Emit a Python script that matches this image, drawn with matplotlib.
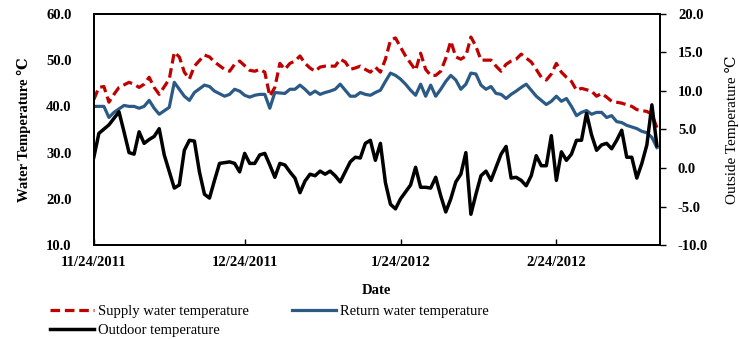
import numpy as np
import pandas as pd
import matplotlib
matplotlib.use('Agg')
import matplotlib.pyplot as plt
import matplotlib.dates as mdates
from matplotlib.lines import Line2D

plt.rcParams['font.family'] = ['Liberation Serif', 'DejaVu Serif']
plt.rcParams['axes.unicode_minus'] = False

### Data (days counted from 11/24/2011)
start = pd.Timestamp('2011-11-24')

supply_day = [0, 1, 2, 3, 4, 5, 7, 8, 9, 10, 11, 12, 13, 15, 16, 17, 18, 19, 20, 22,
              23, 24, 26, 27, 28, 29, 31, 32, 33, 34, 35, 36, 37, 38, 39, 40, 41, 42, 43, 44,
              45, 46, 48, 49, 50, 51, 52, 53, 54, 55, 56, 57, 58, 59, 60, 61, 62, 64, 65, 66,
              67, 68, 69, 70, 71, 72, 73, 74, 75, 76, 77, 78, 79, 80, 81, 82, 83, 84, 85, 87,
              88, 89, 90, 91, 92, 93, 94, 95, 96, 97, 99, 100, 101, 102, 103, 105, 107, 108, 110, 111,
              112]
supply_temp = [41.5, 44.1, 44.3, 40.9, 42.6, 44.1, 45.2, 44.8, 44.1, 44.8, 46.3, 44.1, 42.6, 45.9, 51.7, 50.7, 47.4, 45.9, 48.7, 51.1,
               50.7, 49.6, 48.0, 47.6, 49.1, 49.8, 47.8, 47.6, 48.0, 47.4, 42.2, 44.1, 49.3, 48.0, 49.3, 49.8, 50.9, 49.3, 48.3, 47.6,
               48.5, 48.7, 48.7, 50.2, 49.6, 48.0, 48.3, 48.7, 48.0, 47.4, 48.5, 47.4, 50.2, 54.3, 54.8, 52.8, 50.9, 47.8, 51.5, 48.0,
               46.7, 46.7, 47.6, 50.4, 54.1, 50.7, 50.2, 50.9, 55.0, 53.0, 50.0, 50.0, 50.0, 48.7, 47.6, 49.1, 49.8, 50.2, 51.3, 49.6,
               48.0, 46.3, 45.7, 47.0, 49.3, 47.4, 46.3, 45.4, 43.5, 43.9, 43.3, 42.2, 42.8, 42.0, 41.1, 40.7, 40.0, 39.3, 38.9, 38.3,
               35.4]

return_day = [0, 1, 2, 3, 4, 6, 7, 8, 9, 10, 11, 12, 13, 15, 16, 17, 18, 19, 20, 22,
              23, 24, 26, 27, 28, 29, 30, 31, 32, 33, 34, 35, 36, 38, 39, 40, 41, 42, 43, 44,
              45, 46, 47, 48, 49, 50, 51, 52, 53, 54, 55, 56, 57, 58, 59, 60, 61, 62, 63, 64,
              65, 66, 67, 68, 69, 70, 71, 72, 73, 74, 75, 76, 77, 78, 79, 80, 81, 82, 83, 84,
              85, 86, 87, 88, 89, 90, 91, 92, 93, 94, 95, 96, 97, 98, 99, 100, 101, 102, 103, 104,
              105, 106, 108, 109, 110, 111, 112]
return_temp = [40.0, 40.0, 40.0, 37.6, 38.7, 40.2, 40.0, 40.0, 39.6, 40.0, 41.3, 39.6, 38.3, 39.8, 45.2, 43.7, 42.2, 41.3, 43.0, 44.6,
               44.3, 43.3, 42.2, 42.6, 43.7, 43.3, 42.4, 42.0, 42.4, 42.6, 42.6, 39.6, 43.0, 42.8, 43.7, 43.7, 44.6, 43.7, 42.6, 43.3,
               42.6, 43.0, 43.3, 43.7, 44.8, 43.5, 42.2, 42.2, 43.0, 42.6, 42.4, 43.0, 43.5, 45.4, 47.2, 46.7, 45.9, 44.8, 43.5, 42.4,
               44.8, 42.2, 44.6, 42.2, 43.7, 45.4, 46.7, 45.7, 43.7, 44.8, 47.2, 47.0, 44.6, 43.7, 44.3, 42.8, 42.6, 41.7, 42.6, 43.3,
               44.1, 44.8, 43.5, 42.2, 41.3, 40.4, 41.1, 42.2, 41.1, 41.7, 40.0, 38.0, 38.7, 39.1, 38.3, 38.7, 38.7, 37.6, 38.0, 36.7,
               36.5, 35.9, 35.2, 34.6, 34.3, 33.3, 31.1]

outdoor_day = [0, 1, 3, 5, 6, 7, 8, 9, 10, 11, 12, 13, 14, 16, 17, 18, 19, 20, 21, 22,
               23, 24, 25, 27, 28, 29, 30, 31, 32, 33, 34, 35, 36, 37, 38, 39, 40, 41, 42, 43,
               44, 45, 46, 47, 48, 49, 50, 51, 52, 53, 54, 55, 56, 57, 58, 59, 60, 61, 62, 63,
               64, 65, 66, 67, 68, 69, 70, 71, 72, 73, 74, 75, 76, 77, 78, 79, 80, 81, 82, 83,
               84, 85, 86, 87, 88, 89, 90, 91, 92, 93, 94, 95, 96, 97, 98, 99, 100, 101, 102, 103,
               104, 105, 106, 107, 108, 109, 110, 111, 112]
outdoor_temp = [1.4, 4.5, 5.6, 7.3, 4.7, 2.0, 1.8, 4.7, 3.2, 3.7, 4.1, 5.1, 1.7, -2.6, -2.2, 2.3, 3.6, 3.5, -0.5, -3.4,
                -3.9, -1.6, 0.6, 0.8, 0.6, -0.5, 1.9, 0.6, 0.6, 1.7, 1.9, 0.4, -1.2, 0.6, 0.4, -0.5, -1.3, -3.2, -1.7, -0.8,
                -1.0, -0.4, -0.8, -0.4, -1.0, -1.8, -0.5, 0.8, 1.4, 1.3, 3.2, 3.6, 1.0, 3.2, -1.9, -4.7, -5.3, -4.0, -3.1, -2.2,
                0.1, -2.5, -2.5, -2.6, -1.2, -3.6, -5.7, -4.0, -1.8, -0.8, 2.0, -6.0, -3.4, -1.0, -0.4, -1.6, 0.1, 1.8, 2.8, -1.3,
                -1.2, -1.6, -2.3, -1.0, 1.6, 0.3, 0.3, 4.2, -1.6, 2.1, 1.0, 1.8, 3.6, 3.6, 7.1, 4.3, 2.3, 3.0, 3.2, 2.5,
                3.6, 4.9, 1.4, 1.4, -1.3, 0.6, 3.0, 8.2, 2.9]

tick_dates = ['2011-11-24', '2011-12-24', '2012-01-24', '2012-02-24']
tick_labels = ['11/24/2011', '12/24/2011', '1/24/2012', '2/24/2012']


def to_dates(days):
    return start + pd.to_timedelta(days, unit='D')


### Figure
fig = plt.figure(figsize=(7.39, 3.39), dpi=100)
ax = fig.add_axes([0.127, 0.277, 0.766, 0.682])
ax2 = ax.twinx()

red = '#C00000'
blue = '#2B5A86'

l1, = ax.plot(to_dates(supply_day), supply_temp, color=red, lw=2.3,
              dashes=(3.0, 1.5), label='Supply water temperature')
l2, = ax.plot(to_dates(return_day), return_temp, color=blue, lw=2.3,
              label='Return water temperature')
l3, = ax2.plot(to_dates(outdoor_day), outdoor_temp, color='black', lw=2.5,
               label='Outdoor temperature')

ax.set_xlim(start, start + pd.Timedelta(days=112.6))
ax.set_ylim(10, 60)
ax2.set_ylim(-10, 20)

ax.set_yticks([10, 20, 30, 40, 50, 60])
ax.set_yticklabels(['%.1f' % v for v in [10, 20, 30, 40, 50, 60]])
ax2.set_yticks([-10, -5, 0, 5, 10, 15, 20])
ax2.set_yticklabels(['%.1f' % v for v in [-10, -5, 0, 5, 10, 15, 20]])

ax.set_xticks(pd.to_datetime(tick_dates))
ax.set_xticklabels(tick_labels)

for a in (ax, ax2):
    for s in a.spines.values():
        s.set_linewidth(1.3)
        s.set_color('black')

ax.tick_params(axis='x', direction='in', length=4, width=1, pad=8)
ax.tick_params(axis='y', direction='out', length=0, pad=16)
ax2.tick_params(axis='y', direction='out', length=4, width=1, pad=9)
for lab in ax.get_xticklabels() + ax.get_yticklabels() + ax2.get_yticklabels():
    lab.set_fontsize(10.5)
    lab.set_fontweight('bold')

ax.set_xlabel('Date', fontsize=10.5, fontweight='bold', labelpad=11)
ax.set_ylabel('Water Temperature \u2103', fontsize=10.5, fontweight='bold', labelpad=11)
ax2.set_ylabel('Outside Temperature \u2103', fontsize=11, labelpad=12)

fig.legend(handles=[l1, l3, l2], loc='upper left', bbox_to_anchor=(0.068, 0.100),
           ncol=2, frameon=False, fontsize=10.5, handlelength=3.0, handletextpad=0.25,
           columnspacing=3.0, labelspacing=0.4, borderpad=0, borderaxespad=0)

fig.savefig('out.png', dpi=100)
